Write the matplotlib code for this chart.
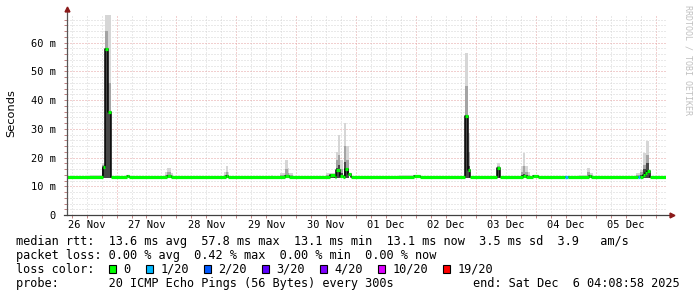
import matplotlib
matplotlib.use('Agg')
import matplotlib.pyplot as plt
import matplotlib.dates as mdates
from matplotlib.ticker import MultipleLocator, FuncFormatter, NullFormatter
from matplotlib.patches import Rectangle
import pandas as pd

# time window of the graph
t_start = "2025-11-26 04:08:58"
t_end = "2025-12-06 04:08:58"

# median rtt (ms), step changes, loss bucket per step
median_time = [
    "2025-11-26 04:09", "2025-11-26 18:45", "2025-11-26 19:33", "2025-11-26 20:45",
    "2025-11-26 21:40", "2025-11-27 04:00", "2025-11-27 04:50", "2025-11-27 20:10",
    "2025-11-27 21:40", "2025-11-28 19:45", "2025-11-28 20:35", "2025-11-29 19:20",
    "2025-11-29 21:10", "2025-11-30 13:21", "2025-11-30 15:21", "2025-11-30 15:45",
    "2025-11-30 17:38", "2025-11-30 18:33", "2025-11-30 19:28", "2025-11-30 20:33",
    "2025-11-30 21:45", "2025-12-01 23:00", "2025-12-02 01:30", "2025-12-02 19:33",
    "2025-12-02 20:57", "2025-12-02 21:45", "2025-12-03 08:33", "2025-12-03 09:33",
    "2025-12-03 18:57", "2025-12-03 20:09", "2025-12-03 22:57", "2025-12-04 01:00",
    "2025-12-04 11:45", "2025-12-04 12:57", "2025-12-04 21:21", "2025-12-04 22:09",
    "2025-12-05 17:05", "2025-12-05 17:40", "2025-12-05 18:57", "2025-12-05 19:45",
    "2025-12-05 20:33", "2025-12-05 21:45", "2025-12-06 04:09",
]
median_ms = [
    13.1, 16.8, 57.8, 36.0,
    13.1, 13.5, 13.1, 13.6,
    13.1, 13.5, 13.1, 13.7,
    13.1, 13.9, 13.1, 15.5,
    13.6, 13.1, 16.0, 14.3,
    13.1, 13.5, 13.1, 34.3,
    15.7, 13.1, 16.5, 13.1,
    13.7, 13.1, 13.5, 13.1,
    13.1, 13.1, 13.4, 13.1,
    13.1, 13.1, 14.0, 14.6,
    15.2, 13.1, 13.1,
]
median_loss = [0] * len(median_ms)
median_loss[32] = 1
median_loss[36] = 1

# smoke (ping spread) columns
smoke_start = [
    "2025-11-26 13:20", "2025-11-26 18:20", "2025-11-26 19:33", "2025-11-26 20:45",
    "2025-11-27 19:20", "2025-11-27 20:10", "2025-11-27 21:40",
    "2025-11-28 19:00", "2025-11-28 19:45", "2025-11-28 20:35",
    "2025-11-29 14:00", "2025-11-29 17:20", "2025-11-29 19:20", "2025-11-29 20:30", "2025-11-29 21:10",
    "2025-11-30 12:00", "2025-11-30 15:45", "2025-11-30 16:35", "2025-11-30 17:38",
    "2025-11-30 19:10", "2025-11-30 20:00",
    "2025-12-01 17:20", "2025-12-02 19:33", "2025-12-02 20:57",
    "2025-12-03 08:33", "2025-12-03 18:09", "2025-12-03 18:57", "2025-12-03 19:45", "2025-12-03 21:00",
    "2025-12-04 17:20", "2025-12-04 20:40", "2025-12-04 21:50",
    "2025-12-05 16:00", "2025-12-05 17:45", "2025-12-05 19:00", "2025-12-05 20:10", "2025-12-05 21:20",
]
smoke_end = [
    "2025-11-26 18:20", "2025-11-26 19:33", "2025-11-26 20:45", "2025-11-26 21:40",
    "2025-11-27 20:10", "2025-11-27 21:40", "2025-11-27 22:33",
    "2025-11-28 19:45", "2025-11-28 20:35", "2025-11-28 21:10",
    "2025-11-29 14:50", "2025-11-29 19:20", "2025-11-29 20:30", "2025-11-29 21:10", "2025-11-29 22:33",
    "2025-11-30 15:20", "2025-11-30 16:35", "2025-11-30 17:38", "2025-11-30 18:33",
    "2025-11-30 20:00", "2025-11-30 21:20",
    "2025-12-01 23:00", "2025-12-02 20:57", "2025-12-02 21:45",
    "2025-12-03 09:33", "2025-12-03 18:57", "2025-12-03 19:45", "2025-12-03 21:00", "2025-12-03 21:45",
    "2025-12-04 20:40", "2025-12-04 21:50", "2025-12-04 22:57",
    "2025-12-05 17:45", "2025-12-05 19:00", "2025-12-05 20:10", "2025-12-05 21:20", "2025-12-05 21:45",
]
smoke_dark = [
    13.2, 16.5, 57.0, 36.0,
    13.4, 13.8, 13.3,
    13.3, 13.8, 13.3,
    13.2, 13.3, 14.0, 13.6, 13.3,
    13.5, 16.5, 17.4, 14.5,
    18.6, 16.0,
    13.2, 34.3, 17.0,
    16.5, 13.8, 14.2, 13.8, 13.4,
    13.3, 13.6, 13.3,
    13.3, 14.0, 16.0, 18.0, 13.5,
]
smoke_mid = [
    13.5, 17.3, 64.0, 46.0,
    14.0, 14.8, 13.8,
    13.9, 15.0, 13.9,
    13.5, 13.8, 16.0, 14.6, 13.8,
    14.0, 19.0, 21.0, 16.0,
    24.0, 19.0,
    13.5, 45.0, 22.0,
    17.2, 15.0, 17.0, 15.0, 14.0,
    13.6, 14.8, 13.8,
    13.8, 14.8, 17.5, 21.0, 13.8,
]
smoke_top = [
    14.0, 18.2, 70.0, 70.0,
    15.0, 16.3, 14.5,
    15.0, 17.2, 15.0,
    14.0, 14.5, 19.2, 16.5, 14.5,
    14.6, 22.0, 28.0, 19.0,
    32.0, 24.0,
    14.0, 56.3, 28.5,
    18.0, 17.0, 21.7, 17.0, 15.0,
    14.0, 16.5, 14.5,
    14.5, 15.5, 21.6, 25.6, 14.0,
]
smoke_floor = 12.9

# legend
loss_labels = ["0", "1/20", "2/20", "3/20", "4/20", "10/20", "19/20"]
loss_colors = ["#00ff00", "#00b8ff", "#0059ff", "#5e00ff", "#7e00ff", "#dd00ff", "#ff0000"]
rtt_line = "median rtt:  13.6 ms avg  57.8 ms max  13.1 ms min  13.1 ms now  3.5 ms sd  3.9   am/s"
loss_line = "packet loss: 0.00 % avg  0.42 % max  0.00 % min  0.00 % now"
probe_line = "probe:       20 ICMP Echo Pings (56 Bytes) every 300s"
end_line = "end: Sat Dec  6 04:08:58 2025"

W, H = 697, 297
MONO = 'DejaVu Sans Mono'

fig = plt.figure(figsize=(W / 100, H / 100), dpi=100)
fig.patch.set_facecolor('white')
ax = fig.add_axes([67 / W, (H - 215) / H, 599 / W, 200 / H])

t0 = pd.to_datetime(t_start)
t1 = pd.to_datetime(t_end)

# smoke
ss = mdates.date2num(pd.to_datetime(smoke_start))
se = mdates.date2num(pd.to_datetime(smoke_end))
wid = se - ss
for vals, col in [(smoke_top, '#d6d6d6'), (smoke_mid, '#a4a4a4'), (smoke_dark, '#474747')]:
    ax.bar(ss, [v - smoke_floor for v in vals], width=wid, bottom=smoke_floor,
           align='edge', color=col, linewidth=0, zorder=2)

# median
mt = mdates.date2num(pd.to_datetime(median_time))
ax.step(mt, median_ms, where='post', color='black', lw=1.1, zorder=3)
ax.hlines(median_ms[:-1], mt[:-1], mt[1:], colors=[loss_colors[l] for l in median_loss[:-1]],
          lw=2.3, zorder=4)

ax.set_xlim(mdates.date2num(t0), mdates.date2num(t1))
ax.set_ylim(0, 69.6)

# grid
ax.set_axisbelow(True)
ax.xaxis.set_major_locator(mdates.DayLocator())
ax.xaxis.set_minor_locator(mdates.HourLocator(byhour=[6, 12, 18]))
ax.xaxis.set_major_formatter(NullFormatter())
ax.yaxis.set_major_locator(MultipleLocator(10))
ax.yaxis.set_minor_locator(MultipleLocator(2))
ax.yaxis.set_major_formatter(FuncFormatter(lambda v, p: '0' if v == 0 else '%d m' % v))
ax.grid(which='minor', color='#d4d4d4', lw=0.72, ls=(0, (1, 2)))
ax.grid(which='major', color='#e4a0a0', lw=0.72, ls=(0, (1, 2)))
ax.tick_params(which='both', direction='out', length=2, width=0.7, color='#c08080')
ax.tick_params(axis='y', labelsize=7.5, pad=6)
for lab in ax.get_yticklabels():
    lab.set_family(MONO)
for s in ax.spines.values():
    s.set_visible(False)

# day labels at noon
for d in pd.date_range(t0.normalize(), t1.normalize() - pd.Timedelta(days=1), freq='D'):
    ax.annotate(d.strftime('%d %b'), xy=(mdates.date2num(d + pd.Timedelta(hours=12)), 0),
                xycoords=('data', 'axes fraction'), xytext=(0, -10), textcoords='offset pixels',
                ha='center', va='center', family=MONO, size=7.5)

# axes with arrows
ax.plot([0, 0], [0, 1.03], transform=ax.transAxes, color='#555555', lw=0.9, clip_on=False, zorder=5)
ax.plot([-0.005, 1.008], [0, 0], transform=ax.transAxes, color='#404040', lw=0.9, clip_on=False, zorder=5)
ax.plot([0], [1.03], marker='^', ms=3.5, color='#8b1a1a', transform=ax.transAxes, clip_on=False, zorder=6)
ax.plot([1.01], [0], marker='>', ms=3.5, color='#8b1a1a', transform=ax.transAxes, clip_on=False, zorder=6)

fig.text(11 / W, 1 - 113 / H, 'Seconds', rotation=90, ha='center', va='center', size=8.2)
fig.text(688 / W, 1 - 5 / H, 'RRDTOOL / TOBI OETIKER', rotation=270, ha='center', va='top',
         family=MONO, size=6, color='#c0c0c0')

# legend
fs = 8.55
cw = 7.1
fig.text(16 / W, 1 - 241.7 / H, rtt_line, family=MONO, size=fs, va='center')
fig.text(16 / W, 1 - 255.3 / H, loss_line, family=MONO, size=fs, va='center')
fig.text(16 / W, 1 - 269.3 / H, "loss color:", family=MONO, size=fs, va='center')
fig.text(16 / W, 1 - 283.3 / H, probe_line, family=MONO, size=fs, va='center')
fig.text(680 / W, 1 - 283.3 / H, end_line, family=MONO, size=fs, va='center', ha='right')

x = 108.7
for lab, col in zip(loss_labels, loss_colors):
    fig.patches.append(Rectangle((x / W, 1 - 273.3 / H), 7 / W, 8 / H, transform=fig.transFigure,
                                 facecolor=col, edgecolor='black', lw=0.8))
    fig.text((x + 14.7) / W, 1 - 269.3 / H, lab, family=MONO, size=fs, va='center')
    x = x + 14.7 + len(lab) * 7.0 + 15.4

fig.savefig('out.png', dpi=100)
